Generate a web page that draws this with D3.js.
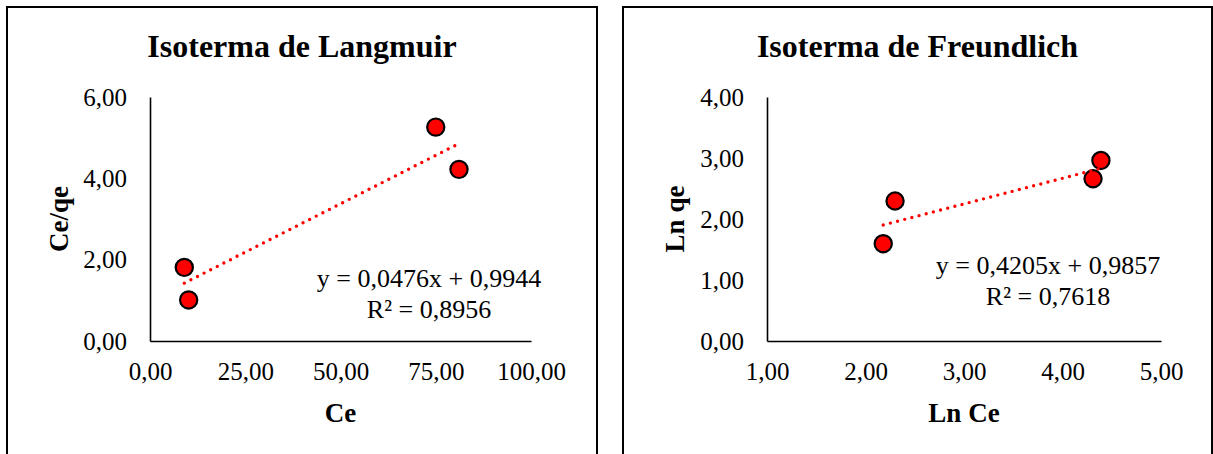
<!DOCTYPE html>
<html>
<head>
<meta charset="utf-8">
<script src="https://cdn.jsdelivr.net/npm/d3@7"></script>
<style>
  html, body { margin: 0; padding: 0; background: #fff; }
  svg { display: block; font-family: "Liberation Serif", "Times New Roman", serif; }
</style>
</head>
<body>
<svg id="chart" width="1213" height="454"></svg>
<script>
// Langmuir isotherm: Ce vs Ce/qe
const langCe   = [9.0, 10.15, 75.0, 81.1];
const langCeQe = [1.81, 1.01, 5.26, 4.22];
const langSlope = 0.0476, langIntercept = 0.9944;
const langEq = "y = 0,0476x + 0,9944";
const langR2 = "R² = 0,8956";
const langXTicks = [0, 25, 50, 75, 100];
const langYTicks = [0, 2, 4, 6];

// Freundlich isotherm: Ln Ce vs Ln qe
const freuLnCe = [2.18, 2.30, 4.31, 4.39];
const freuLnQe = [1.595, 2.295, 2.66, 2.96];
const freuSlope = 0.4205, freuIntercept = 0.9857;
const freuEq = "y = 0,4205x + 0,9857";
const freuR2 = "R² = 0,7618";
const freuXTicks = [1, 2, 3, 4, 5];
const freuYTicks = [0, 1, 2, 3, 4];

const locale = d3.formatLocale({ decimal: ",", thousands: ".", grouping: [3], currency: ["", ""] });
const fmt = locale.format(".2f");

const svg = d3.select("#chart");

function panel(cfg) {
  const g = svg.append("g");

  // outer frame of the chart object
  g.append("rect")
    .attr("x", cfg.frame[0]).attr("y", cfg.frame[1])
    .attr("width", cfg.frame[2]).attr("height", cfg.frame[3])
    .attr("fill", "#fff").attr("stroke", "#000").attr("stroke-width", 2);

  const x = d3.scaleLinear().domain(cfg.xDomain).range(cfg.xRange);
  const y = d3.scaleLinear().domain(cfg.yDomain).range(cfg.yRange);

  // title
  g.append("text")
    .attr("x", cfg.frame[0] + cfg.frame[2] / 2).attr("y", 57)
    .attr("text-anchor", "middle")
    .attr("font-weight", "bold").attr("font-size", 32)
    .text(cfg.title);

  // axes
  const xAxis = g.append("g")
    .attr("transform", `translate(0,${cfg.yRange[0]})`)
    .call(d3.axisBottom(x).tickValues(cfg.xTicks).tickFormat(fmt).tickSize(0).tickPadding(21));
  const yAxis = g.append("g")
    .attr("transform", `translate(${cfg.xRange[0]},0)`)
    .call(d3.axisLeft(y).tickValues(cfg.yTicks).tickFormat(fmt).tickSize(0).tickPadding(23));
  [xAxis, yAxis].forEach(a => {
    a.select(".domain").attr("stroke", "#000").attr("stroke-width", 1.6);
    a.selectAll("text")
      .attr("font-family", "Liberation Serif, Times New Roman, serif")
      .attr("font-size", 25).attr("fill", "#000");
  });

  // axis titles
  g.append("text")
    .attr("x", (cfg.xRange[0] + cfg.xRange[1]) / 2).attr("y", 422)
    .attr("text-anchor", "middle")
    .attr("font-weight", "bold").attr("font-size", 27)
    .text(cfg.xLabel);
  const cy = (cfg.yRange[0] + cfg.yRange[1]) / 2;
  g.append("text")
    .attr("transform", `translate(${cfg.yLabelX},${cy}) rotate(-90)`)
    .attr("text-anchor", "middle")
    .attr("font-weight", "bold").attr("font-size", 27)
    .text(cfg.yLabel);

  // markers
  g.selectAll("circle.pt")
    .data(cfg.xs.map((v, i) => [v, cfg.ys[i]]))
    .join("circle")
    .attr("class", "pt")
    .attr("cx", d => x(d[0])).attr("cy", d => y(d[1]))
    .attr("r", 8.6)
    .attr("fill", "#ff0000").attr("stroke", "#000").attr("stroke-width", 2.2);

  // linear trendline over the data range
  const x0 = d3.min(cfg.xs), x1 = d3.max(cfg.xs);
  g.append("line")
    .attr("x1", x(x0)).attr("y1", y(cfg.slope * x0 + cfg.intercept))
    .attr("x2", x(x1)).attr("y2", y(cfg.slope * x1 + cfg.intercept))
    .attr("stroke", "#ff0000").attr("stroke-width", 3.4)
    .attr("stroke-linecap", "round").attr("stroke-dasharray", "0 7.4");

  // equation and R²
  g.append("text")
    .attr("x", cfg.eqX).attr("y", cfg.eqY)
    .attr("text-anchor", "middle").attr("font-size", 26)
    .text(cfg.eq);
  g.append("text")
    .attr("x", cfg.eqX).attr("y", cfg.eqY + 31)
    .attr("text-anchor", "middle").attr("font-size", 26)
    .text(cfg.r2);
}

panel({
  frame: [7, 7, 590, 480],
  title: "Isoterma de Langmuir",
  xDomain: [0, 100], xRange: [150, 531],
  yDomain: [0, 6], yRange: [341, 97],
  xTicks: langXTicks, yTicks: langYTicks,
  xLabel: "Ce", yLabel: "Ce/qe", yLabelX: 68,
  xs: langCe, ys: langCeQe,
  slope: langSlope, intercept: langIntercept,
  eq: langEq, r2: langR2, eqX: 429, eqY: 287
});

panel({
  frame: [623, 7, 589, 480],
  title: "Isoterma de Freundlich",
  xDomain: [1, 5], xRange: [767, 1161],
  yDomain: [0, 4], yRange: [341, 97],
  xTicks: freuXTicks, yTicks: freuYTicks,
  xLabel: "Ln Ce", yLabel: "Ln qe", yLabelX: 684,
  xs: freuLnCe, ys: freuLnQe,
  slope: freuSlope, intercept: freuIntercept,
  eq: freuEq, r2: freuR2, eqX: 1048, eqY: 274
});
</script>
</body>
</html>
